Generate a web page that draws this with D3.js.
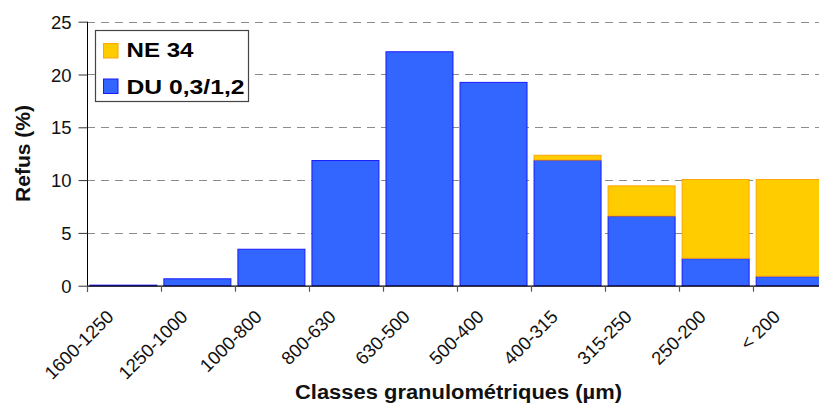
<!DOCTYPE html>
<html>
<head>
<meta charset="utf-8">
<script src="https://cdn.jsdelivr.net/npm/d3@7"></script>
<style>
  html, body { margin: 0; padding: 0; background: #fff; }
  svg { display: block; overflow: hidden; font-family: "Liberation Sans", Arial, sans-serif; }
</style>
</head>
<body>
<svg id="chart" width="819" height="406"></svg>
<script>
// Size classes (µm) and retained fraction (%) per class
const categories = ["1600-1250", "1250-1000", "1000-800", "800-630", "630-500",
                    "500-400", "400-315", "315-250", "250-200", "< 200"];
const duValues = [0.1, 0.7, 3.5, 11.9, 22.2, 19.3, 11.9, 6.6, 2.6, 0.9];
const neValues = [0, 0, 0, 0, 0, 0, 0.5, 2.9, 7.5, 9.2];
const yTicks = [0, 5, 10, 15, 20, 25];
const seriesNames = ["DU 0,3/1,2", "NE 34"];
const seriesColors = { "DU 0,3/1,2": "#3366FF", "NE 34": "#FFCC00" };
const seriesStroke = { "DU 0,3/1,2": "#1A1AFF", "NE 34": "#FFA500" };

const svg = d3.select("#chart");
const plotLeft = 87, plotRight = 827, plotTop = 21.7, plotBottom = 285.7;

const x = d3.scaleBand().domain(categories).range([plotLeft, plotRight])
  .paddingInner(0.095).paddingOuter(0.045).align(0.35);
const step = (plotRight - plotLeft) / categories.length;
const y = d3.scaleLinear().domain([0, 25]).range([plotBottom, plotTop]);

// dashed horizontal gridlines
svg.append("g").selectAll("line")
  .data(yTicks.filter(d => d > 0))
  .join("line")
  .attr("x1", plotLeft).attr("x2", 819)
  .attr("y1", d => Math.round(y(d)) + 0.5).attr("y2", d => Math.round(y(d)) + 0.5)
  .attr("stroke", "#8c8c8c").attr("stroke-width", 1.2)
  .attr("stroke-dasharray", "8,6");

// stacked bars
const rows = categories.map((c, i) => ({ cat: c, "DU 0,3/1,2": duValues[i], "NE 34": neValues[i] }));
const stacked = d3.stack().keys(seriesNames)(rows);

svg.append("g").selectAll("g")
  .data(stacked)
  .join("g")
  .attr("fill", s => seriesColors[s.key])
  .attr("stroke", s => seriesStroke[s.key])
  .attr("stroke-width", 1)
  .selectAll("rect")
  .data(s => s.filter(d => d[1] - d[0] > 0))
  .join("rect")
  .attr("x", d => x(d.data.cat) + 0.5)
  .attr("width", x.bandwidth())
  .attr("y", d => y(d[1]) + 0.5)
  .attr("height", d => Math.max(0.5, y(d[0]) - y(d[1]) - 0.5));

// y axis
const yAxis = d3.axisLeft(y).tickValues(yTicks).tickSize(9).tickPadding(7).tickSizeOuter(0);
const yg = svg.append("g").attr("transform", `translate(${plotLeft + 0.5},0)`).call(yAxis);
yg.select(".domain").attr("stroke", "#000").attr("d", `M0,${plotTop}V${plotBottom + 6}`);
yg.selectAll(".tick line").attr("stroke", "#333");
yg.selectAll(".tick text")
  .attr("font-size", "18.5px").attr("fill", "#111")
  .attr("font-family", "'Liberation Sans', Arial, sans-serif")
  .attr("dy", "0.36em");

// x axis baseline and category boundary ticks
svg.append("line")
  .attr("x1", plotLeft).attr("x2", 819)
  .attr("y1", plotBottom + 0.5).attr("y2", plotBottom + 0.5)
  .attr("stroke", "#000").attr("stroke-width", 1.3);
const bounds = d3.range(categories.length + 1).map(i => plotLeft + i * step);
svg.append("g").selectAll("line")
  .data(bounds)
  .join("line")
  .attr("x1", d => Math.round(d) + 0.5).attr("x2", d => Math.round(d) + 0.5)
  .attr("y1", plotBottom).attr("y2", plotBottom + 6)
  .attr("stroke", "#555").attr("stroke-width", 1.2);

// rotated category labels
svg.append("g").selectAll("text")
  .data(categories)
  .join("text")
  .attr("transform", d => `translate(${x(d) + x.bandwidth() / 2 - 8},318) rotate(-45)`)
  .attr("text-anchor", "end")
  .attr("font-size", "18.5px")
  .attr("fill", "#111")
  .text(d => d);

// axis titles
svg.append("text")
  .attr("transform", "translate(30,153.5) rotate(-90)")
  .attr("text-anchor", "middle")
  .attr("font-size", "19.5px").attr("font-weight", "bold").attr("fill", "#111")
  .attr("textLength", 97).attr("lengthAdjust", "spacingAndGlyphs")
  .text("Refus (%)");

svg.append("text")
  .attr("x", 458.5).attr("y", 399)
  .attr("text-anchor", "middle")
  .attr("font-size", "19.5px").attr("font-weight", "bold").attr("fill", "#111")
  .attr("textLength", 327).attr("lengthAdjust", "spacingAndGlyphs")
  .text("Classes granulométriques (µm)");

// legend
const legend = svg.append("g");
legend.append("rect")
  .attr("x", 95.5).attr("y", 30.5).attr("width", 153).attr("height", 71)
  .attr("fill", "#fff").attr("stroke", "#444").attr("stroke-width", 1.2);
const legendItems = [
  { name: "NE 34", y: 43, base: 57, len: 67 },
  { name: "DU 0,3/1,2", y: 78.5, base: 93.5, len: 118 }
];
legendItems.forEach(it => {
  legend.append("rect")
    .attr("x", 103.5).attr("y", it.y + 0.5).attr("width", 14.5).attr("height", 14.5)
    .attr("fill", seriesColors[it.name]).attr("stroke", seriesStroke[it.name]).attr("stroke-width", 1);
  legend.append("text")
    .attr("x", 126.5).attr("y", it.base)
    .attr("font-size", "20px").attr("font-weight", "bold").attr("fill", "#000")
    .attr("textLength", it.len).attr("lengthAdjust", "spacingAndGlyphs")
    .text(it.name);
});
</script>
</body>
</html>
